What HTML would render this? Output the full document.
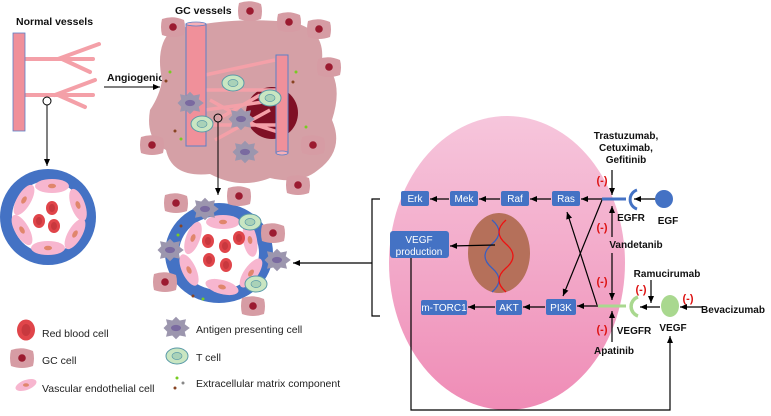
<!DOCTYPE html>
<html><head><meta charset="utf-8"><style>
html,body{margin:0;padding:0;background:#fff;}
svg{display:block;font-family:"Liberation Sans",sans-serif;}
.b{font-weight:bold;font-size:10.5px;fill:#111;}
.l{font-size:10.5px;fill:#222;}
.m{font-weight:bold;font-size:11px;fill:#d11;}
.bx{fill:#4472c4;}
.bt{font-size:10px;fill:#fff;text-anchor:middle;}
</style></head><body>
<svg width="771" height="416" viewBox="0 0 771 416">
<defs>
<marker id="a" markerWidth="8" markerHeight="8" refX="7" refY="4" orient="auto" markerUnits="userSpaceOnUse"><path d="M0,1 L7,4 L0,7 Z" fill="#000"/></marker>
<g id="gc"><path d="M-11,-8 Q0,-12 11,-7 Q13,0 11,8 Q0,12 -11,8 Q-13,0 -11,-8Z" fill="#d69ca4"/><circle r="3.8" fill="#9b1b30"/></g>
<g id="apc"><g transform="scale(1.25)"><path d="M-10,0 L-7,-3 L-8,-7 L-3,-6 L0,-9 L3,-6 L8,-7 L7,-3 L11,0 L7,3 L8,7 L3,6 L0,9 L-3,6 L-8,7 L-7,3Z" fill="#9c96ae"/><ellipse rx="4" ry="2.5" fill="#7a6aa0"/></g></g>
<g id="tc"><ellipse rx="11" ry="8" fill="#c9e6c2" stroke="#5a9aa8"/><ellipse rx="5" ry="3.5" fill="#a9d2b8" stroke="#5a9aa8" stroke-width="0.7"/></g>
<g id="rbc"><ellipse rx="6" ry="7" fill="#e0454a"/><ellipse rx="3" ry="4" fill="#c8383e"/></g>
<g id="ec"><ellipse rx="17" ry="7" fill="#f7b6cf"/><ellipse rx="4" ry="2.3" fill="#e0866c"/></g>
</defs>

<!-- Normal vessels -->
<text class="b" x="16" y="25">Normal vessels</text>
<g stroke="#f4a0a8" stroke-width="4" fill="none" stroke-linecap="round">
<path d="M24,59 H93 M58,59 L99,44 M62,59 L90,72 M24,95 H93 M55,95 L95,80 M58,95 L85,107"/>
</g>
<rect x="13" y="33" width="12" height="98" fill="#f0909a" stroke="#5b7fc7" stroke-width="0.8"/>
<circle cx="47" cy="101" r="4" fill="none" stroke="#000"/>
<line x1="47" y1="105" x2="47" y2="166" stroke="#000" marker-end="url(#a)"/>
<circle cx="48" cy="217" r="48" fill="#4472c4"/>
<circle cx="48" cy="217" r="36" fill="#fff"/>
<use href="#ec" x="52" y="186"/><use href="#ec" x="78" y="205" transform="rotate(70 78 205)"/>
<use href="#ec" x="75" y="234" transform="rotate(-60 75 234)"/><use href="#ec" x="48" y="248"/>
<use href="#ec" x="22" y="230" transform="rotate(60 22 230)"/><use href="#ec" x="24" y="200" transform="rotate(-60 24 200)"/>
<use href="#rbc" x="52" y="208"/><use href="#rbc" x="39" y="221"/><use href="#rbc" x="54" y="226"/>

<!-- Angiogenic -->
<text class="b" x="107" y="81">Angiogenic</text>
<line x1="104" y1="87" x2="160" y2="87" stroke="#000" marker-end="url(#a)"/>

<!-- GC vessels -->
<text class="b" x="175" y="14">GC vessels</text>
<path d="M172,30 Q230,16 290,22 Q325,28 322,60 Q345,80 332,120 Q345,150 318,170 Q300,185 270,178 Q240,190 210,174 Q172,178 166,150 Q145,140 150,110 Q160,95 162,80 Q155,45 172,30Z" fill="#d5a0a6"/>
<circle cx="272" cy="113" r="26" fill="#7f1025"/>
<g stroke="#f4a0a8" stroke-width="3.5" fill="none">
<path d="M205,75 L275,60 M205,90 H278 M205,110 L278,100 M205,125 H278 M210,100 L255,125 M220,118 L260,95 M240,120 L278,132 M215,140 L270,110"/>
</g>
<rect x="186" y="24" width="20" height="122" fill="#f0909a" stroke="#5b7fc7"/>
<ellipse cx="196" cy="24" rx="10" ry="2" fill="#f6b0b8" stroke="#5b7fc7" stroke-width="0.8"/>
<rect x="276" y="55" width="12" height="98" fill="#f0909a" stroke="#5b7fc7"/>
<ellipse cx="282" cy="153" rx="6" ry="2" fill="#f6b0b8" stroke="#5b7fc7" stroke-width="0.8"/>
<use href="#tc" x="233" y="83"/><use href="#tc" x="270" y="98"/><use href="#tc" x="202" y="124"/>
<use href="#apc" x="190" y="103"/><use href="#apc" x="241" y="119"/><use href="#apc" x="245" y="152"/>
<use href="#gc" x="173" y="27"/><use href="#gc" x="250" y="11"/><use href="#gc" x="289" y="22"/><use href="#gc" x="319" y="29"/>
<use href="#gc" x="329" y="67"/><use href="#gc" x="152" y="145"/><use href="#gc" x="313" y="145"/><use href="#gc" x="298" y="185"/>
<g><circle cx="170" cy="72" r="1.5" fill="#7c2"/><circle cx="166" cy="81" r="1.5" fill="#842"/><circle cx="296" cy="72" r="1.5" fill="#7c2"/><circle cx="293" cy="82" r="1.5" fill="#842"/><circle cx="175" cy="131" r="1.5" fill="#842"/><circle cx="181" cy="139" r="1.5" fill="#7c2"/><circle cx="306" cy="127" r="1.5" fill="#7c2"/></g>
<circle cx="218" cy="118" r="4" fill="none" stroke="#000"/>
<line x1="218" y1="122" x2="218" y2="195" stroke="#000" marker-end="url(#a)"/>

<!-- cross-section 2 -->
<ellipse cx="219" cy="253" rx="54" ry="50" fill="#4472c4"/>
<ellipse cx="219" cy="253" rx="40" ry="37" fill="#fff"/>
<use href="#ec" x="223" y="222"/><use href="#ec" x="193" y="238" transform="rotate(-70 193 238)"/>
<use href="#ec" x="189" y="270" transform="rotate(65 189 270)"/><use href="#ec" x="222" y="287" transform="rotate(15 222 287)"/>
<use href="#ec" x="251" y="273" transform="rotate(-55 251 273)"/><use href="#ec" x="250" y="240" transform="rotate(80 250 240)"/>
<use href="#rbc" x="208" y="241"/><use href="#rbc" x="225" y="246"/><use href="#rbc" x="239" y="238"/><use href="#rbc" x="209" y="260"/><use href="#rbc" x="226" y="265"/>
<use href="#tc" x="250" y="222"/><use href="#tc" x="256" y="284"/>
<use href="#apc" x="205" y="209"/><use href="#apc" x="170" y="250"/><use href="#apc" x="277" y="260"/>
<use href="#gc" x="176" y="203"/><use href="#gc" x="239" y="196"/><use href="#gc" x="273" y="233"/><use href="#gc" x="165" y="282"/><use href="#gc" x="253" y="306"/>
<circle cx="181" cy="226" r="1.5" fill="#842"/><circle cx="178" cy="235" r="1.5" fill="#7c2"/><circle cx="193" cy="296" r="1.5" fill="#842"/><circle cx="203" cy="299" r="1.5" fill="#7c2"/>

<!-- legend -->
<use href="#rbc" x="26" y="330" transform="translate(26 330) scale(1.5) translate(-26 -330)"/>
<text class="l" x="42" y="337">Red blood cell</text>
<use href="#gc" x="22" y="358"/><text class="l" x="42" y="364">GC cell</text>
<ellipse cx="26" cy="385" rx="11" ry="5" fill="#f7b6cf" transform="rotate(-20 26 385)"/><ellipse cx="26" cy="385" rx="3" ry="1.8" fill="#e0866c"/>
<text class="l" x="42" y="392">Vascular endothelial cell</text>
<use href="#apc" x="176" y="328"/><text class="l" x="196" y="333">Antigen presenting cell</text>
<use href="#tc" x="177" y="356"/><text class="l" x="196" y="361">T cell</text>
<circle cx="177" cy="378" r="1.5" fill="#7c2"/><circle cx="183" cy="383" r="1.5" fill="#888"/><circle cx="175" cy="388" r="1.5" fill="#842"/>
<text class="l" x="196" y="387">Extracellular matrix component</text>

<!-- big cell -->
<defs><linearGradient id="pk" x1="0" y1="0" x2="0" y2="1"><stop offset="0" stop-color="#f6c6dc"/><stop offset="1" stop-color="#ef8cb6"/></linearGradient></defs>
<ellipse cx="507" cy="263" rx="118" ry="147" fill="url(#pk)"/>
<ellipse cx="499" cy="253" rx="31" ry="40" fill="#b5705a"/>
<g stroke-width="1.3" fill="none">
<path d="M492,220 Q506,232 492,244 Q478,256 492,268 Q506,280 492,292" stroke="#3a5fc0"/>
<path d="M506,220 Q492,232 506,244 Q520,256 506,268 Q492,280 506,292" stroke="#e11"/>
</g>
<!-- boxes -->
<rect class="bx" x="401" y="191" width="28" height="15" rx="2"/><text class="bt" x="415" y="202">Erk</text>
<rect class="bx" x="450" y="191" width="28" height="15" rx="2"/><text class="bt" x="464" y="202">Mek</text>
<rect class="bx" x="501" y="191" width="28" height="15" rx="2"/><text class="bt" x="515" y="202">Raf</text>
<rect class="bx" x="552" y="191" width="28" height="15" rx="2"/><text class="bt" x="566" y="202">Ras</text>
<rect class="bx" x="390" y="231" width="59" height="27" rx="3"/><text class="bt" x="419" y="243">VEGF</text><text class="bt" x="419" y="255">production</text>
<rect class="bx" x="421" y="300" width="46" height="15" rx="2"/><text class="bt" x="444" y="311">m-TORC1</text>
<rect class="bx" x="496" y="300" width="26" height="15" rx="2"/><text class="bt" x="509" y="311">AKT</text>
<rect class="bx" x="546" y="299" width="30" height="16" rx="2"/><text class="bt" x="561" y="311">PI3K</text>
<g stroke="#000" stroke-width="1.2" fill="none">
<line x1="449" y1="199" x2="430" y2="199" marker-end="url(#a)"/>
<line x1="500" y1="199" x2="479" y2="199" marker-end="url(#a)"/>
<line x1="551" y1="199" x2="530" y2="199" marker-end="url(#a)"/>
<line x1="602" y1="199" x2="581" y2="199" marker-end="url(#a)"/>
<line x1="495" y1="245" x2="450" y2="246" marker-end="url(#a)"/>
<line x1="495" y1="307" x2="468" y2="307" marker-end="url(#a)"/>
<line x1="545" y1="307" x2="523" y2="307" marker-end="url(#a)"/>
<line x1="598" y1="306" x2="577" y2="306" marker-end="url(#a)"/>
<line x1="602" y1="200" x2="563" y2="296" marker-end="url(#a)"/>
<line x1="597" y1="305" x2="567" y2="212" marker-end="url(#a)"/>
<line x1="612" y1="170" x2="612" y2="195" marker-end="url(#a)"/>
<line x1="612" y1="237" x2="612" y2="206" marker-end="url(#a)"/>
<line x1="612" y1="253" x2="612" y2="300" marker-end="url(#a)"/>
<line x1="612" y1="342" x2="612" y2="311" marker-end="url(#a)"/>
<line x1="651" y1="280" x2="651" y2="303" marker-end="url(#a)"/>
<line x1="656" y1="199" x2="634" y2="199" marker-end="url(#a)"/>
<line x1="660" y1="307" x2="640" y2="307" marker-end="url(#a)"/>
<line x1="702" y1="307" x2="680" y2="307" marker-end="url(#a)"/>
<path d="M380,199 H372 V316 H380"/>
<line x1="372" y1="263" x2="293" y2="263" marker-end="url(#a)"/>
<path d="M411,258 V410 H670 V336" marker-end="url(#a)"/>
</g>
<line x1="602" y1="199" x2="626" y2="199" stroke="#4472c4" stroke-width="3"/>
<path d="M637,190 A10,10 0 0 0 637,209" stroke="#4472c4" stroke-width="3" fill="none"/>
<circle cx="664" cy="199" r="9" fill="#4472c4"/>
<line x1="598" y1="306" x2="626" y2="306" stroke="#a9d88f" stroke-width="3"/>
<path d="M638,297 A10,10 0 0 0 638,316" stroke="#a9d88f" stroke-width="3.5" fill="none"/>
<ellipse cx="670" cy="306" rx="9" ry="11" fill="#a9d88f"/>
<!-- labels -->
<g class="b" text-anchor="middle" style="font-size:10px">
<text x="626" y="139">Trastuzumab,</text><text x="626" y="151">Cetuximab,</text><text x="626" y="163">Gefitinib</text>
<text x="631" y="221">EGFR</text><text x="668" y="224">EGF</text>
<text x="636" y="248">Vandetanib</text>
<text x="667" y="277">Ramucirumab</text>
<text x="733" y="313">Bevacizumab</text>
<text x="634" y="334">VEGFR</text><text x="673" y="331">VEGF</text>
<text x="614" y="354">Apatinib</text>
</g>
<g class="m" text-anchor="middle">
<text x="602" y="184">(-)</text><text x="602" y="231">(-)</text><text x="602" y="285">(-)</text>
<text x="641" y="293">(-)</text><text x="688" y="302">(-)</text><text x="602" y="333">(-)</text>
</g>
</svg>
</body></html>
